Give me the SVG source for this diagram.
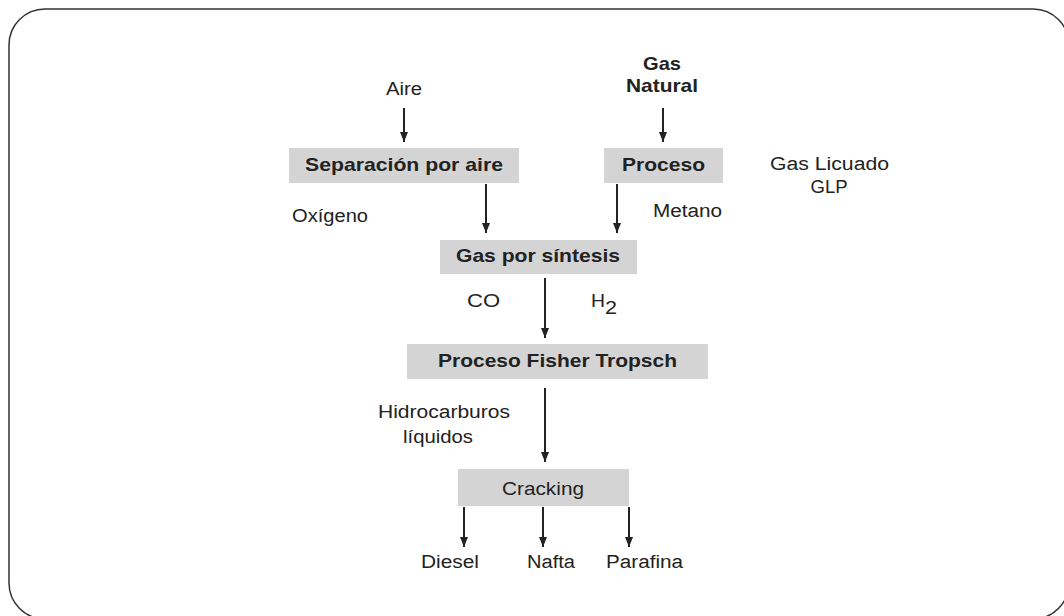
<svg xmlns="http://www.w3.org/2000/svg" width="1064" height="616" viewBox="0 0 1064 616">
<style>
text{font-family:"Liberation Sans",Arial,sans-serif;font-size:18px;fill:#222}
.b{font-weight:bold;font-size:18.5px}
.box{fill:#d4d4d4}
.c line{stroke:#222;stroke-width:2;marker-end:url(#ah)}
</style>
<defs>
<marker id="ah" markerUnits="userSpaceOnUse" markerWidth="10" markerHeight="10" viewBox="0 0 10 10" refX="10" refY="5" orient="auto">
<path d="M0,1 L10,5 L0,9 Z" fill="#222"/>
</marker>
</defs>
<rect x="9" y="9" width="1060" height="610" rx="36" ry="36" fill="none" stroke="#333" stroke-width="1.5"/>
<g id="aire"><text x="386" y="95" textLength="36" lengthAdjust="spacingAndGlyphs">Aire</text></g>
<g id="gasnatural"><text class="b" x="662" y="70" text-anchor="middle" textLength="38" lengthAdjust="spacingAndGlyphs">Gas</text><text class="b" x="662" y="92" text-anchor="middle" textLength="72" lengthAdjust="spacingAndGlyphs">Natural</text></g>
<g id="separacion"><rect class="box" x="289" y="148" width="230" height="35"/><text class="b" x="305" y="171" textLength="198" lengthAdjust="spacingAndGlyphs">Separación por aire</text></g>
<g id="proceso"><rect class="box" x="604" y="148" width="119" height="35"/><text class="b" x="622" y="171" textLength="83" lengthAdjust="spacingAndGlyphs">Proceso</text></g>
<g id="glp"><text x="770" y="170" textLength="119" lengthAdjust="spacingAndGlyphs">Gas Licuado</text><text x="829" y="193" text-anchor="middle" textLength="37" lengthAdjust="spacingAndGlyphs">GLP</text></g>
<g id="oxigeno"><text x="292" y="222" textLength="76" lengthAdjust="spacingAndGlyphs">Oxígeno</text></g>
<g id="metano"><text x="653" y="217" textLength="69" lengthAdjust="spacingAndGlyphs">Metano</text></g>
<g id="gassintesis"><rect class="box" x="440" y="240" width="197" height="34"/><text class="b" x="456" y="262" textLength="164" lengthAdjust="spacingAndGlyphs">Gas por síntesis</text></g>
<g id="co"><text x="467" y="307" textLength="33" lengthAdjust="spacingAndGlyphs">CO</text></g>
<g id="h2"><text x="591" y="307" textLength="14" lengthAdjust="spacingAndGlyphs">H</text><text x="605" y="314" textLength="12" lengthAdjust="spacingAndGlyphs">2</text></g>
<g id="fisher"><rect class="box" x="407" y="344" width="301" height="35"/><text class="b" x="438" y="367" textLength="239" lengthAdjust="spacingAndGlyphs">Proceso Fisher Tropsch</text></g>
<g id="hidrocarburos"><text x="378" y="418" textLength="132" lengthAdjust="spacingAndGlyphs">Hidrocarburos</text><text x="403" y="443" textLength="70" lengthAdjust="spacingAndGlyphs">líquidos</text></g>
<g id="cracking"><rect class="box" x="458" y="469" width="171" height="37"/><text x="502" y="495" textLength="82" lengthAdjust="spacingAndGlyphs">Cracking</text></g>
<g id="diesel"><text x="421" y="568" textLength="58" lengthAdjust="spacingAndGlyphs">Diesel</text></g>
<g id="nafta"><text x="527" y="568" textLength="48" lengthAdjust="spacingAndGlyphs">Nafta</text></g>
<g id="parafina"><text x="606" y="568" textLength="77" lengthAdjust="spacingAndGlyphs">Parafina</text></g>
<g id="connectors" class="c">
<line x1="404" y1="108" x2="404" y2="142"/>
<line x1="663" y1="108" x2="663" y2="142"/>
<line x1="486" y1="184" x2="486" y2="233"/>
<line x1="617" y1="184" x2="617" y2="233"/>
<line x1="545" y1="278" x2="545" y2="338"/>
<line x1="545" y1="388" x2="545" y2="462"/>
<line x1="464" y1="507" x2="464" y2="547"/>
<line x1="543" y1="507" x2="543" y2="547"/>
<line x1="629" y1="507" x2="629" y2="547"/>
</g>
</svg>
